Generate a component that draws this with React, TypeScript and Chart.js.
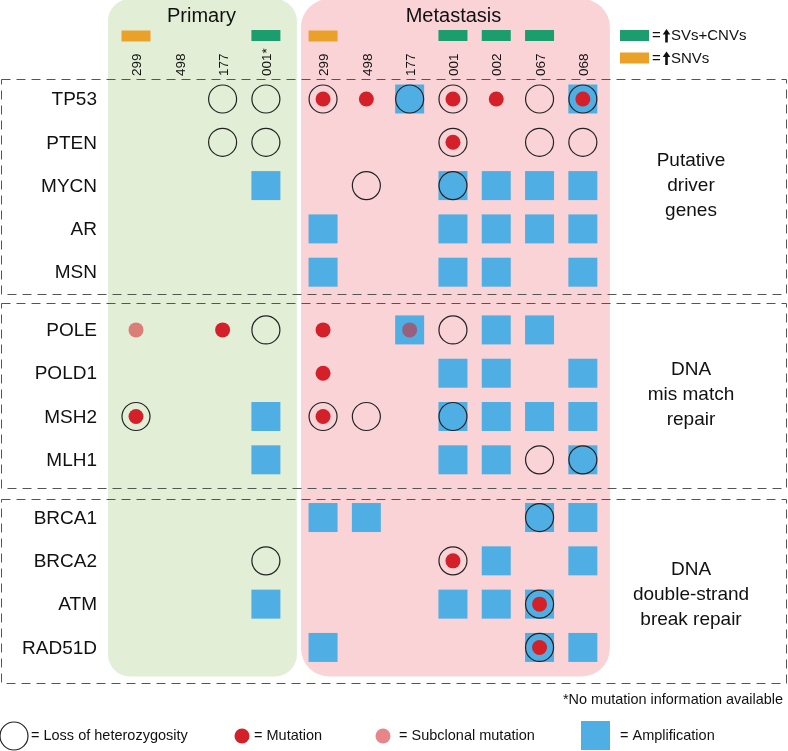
import React, { useEffect, useRef } from 'react';
import { Chart, registerables } from 'chart.js';

Chart.register(...registerables);

// ---------------- DATA ----------------
const primarySamples = ['299', '498', '177', '001*'];
const metastasisSamples = ['299', '498', '177', '001', '002', '067', '068'];

const putativeDriverGenes = ['TP53', 'PTEN', 'MYCN', 'AR', 'MSN'];
const mismatchRepairGenes = ['POLE', 'POLD1', 'MSH2', 'MLH1'];
const doubleStrandRepairGenes = ['BRCA1', 'BRCA2', 'ATM', 'RAD51D'];

const groupLabels = [
  ['Putative', 'driver', 'genes'],
  ['DNA', 'mis match', 'repair'],
  ['DNA', 'double-strand', 'break repair'],
];

// column keys: P = primary, M = metastasis
const highSVsCNVs = ['P001*', 'M001', 'M002', 'M067'];
const highSNVs = ['P299', 'M299'];

const amplification = [
  ['TP53', 'M177'], ['TP53', 'M068'],
  ['MYCN', 'P001*'], ['MYCN', 'M001'], ['MYCN', 'M002'], ['MYCN', 'M067'], ['MYCN', 'M068'],
  ['AR', 'M299'], ['AR', 'M001'], ['AR', 'M002'], ['AR', 'M067'], ['AR', 'M068'],
  ['MSN', 'M299'], ['MSN', 'M001'], ['MSN', 'M002'], ['MSN', 'M068'],
  ['POLE', 'M177'], ['POLE', 'M002'], ['POLE', 'M067'],
  ['POLD1', 'M001'], ['POLD1', 'M002'], ['POLD1', 'M068'],
  ['MSH2', 'P001*'], ['MSH2', 'M001'], ['MSH2', 'M002'], ['MSH2', 'M067'], ['MSH2', 'M068'],
  ['MLH1', 'P001*'], ['MLH1', 'M001'], ['MLH1', 'M002'], ['MLH1', 'M068'],
  ['BRCA1', 'M299'], ['BRCA1', 'M498'], ['BRCA1', 'M067'], ['BRCA1', 'M068'],
  ['BRCA2', 'M002'], ['BRCA2', 'M068'],
  ['ATM', 'P001*'], ['ATM', 'M001'], ['ATM', 'M002'], ['ATM', 'M067'],
  ['RAD51D', 'M299'], ['RAD51D', 'M067'], ['RAD51D', 'M068'],
];

const lossOfHeterozygosity = [
  ['TP53', 'P177'], ['TP53', 'P001*'], ['TP53', 'M299'], ['TP53', 'M177'], ['TP53', 'M001'], ['TP53', 'M067'], ['TP53', 'M068'],
  ['PTEN', 'P177'], ['PTEN', 'P001*'], ['PTEN', 'M001'], ['PTEN', 'M067'], ['PTEN', 'M068'],
  ['MYCN', 'M498'], ['MYCN', 'M001'],
  ['POLE', 'P001*'], ['POLE', 'M001'],
  ['MSH2', 'P299'], ['MSH2', 'M299'], ['MSH2', 'M498'], ['MSH2', 'M001'],
  ['MLH1', 'M067'], ['MLH1', 'M068'],
  ['BRCA1', 'M067'],
  ['BRCA2', 'P001*'], ['BRCA2', 'M001'],
  ['ATM', 'M067'],
  ['RAD51D', 'M067'],
];

const mutation = [
  ['TP53', 'M299'], ['TP53', 'M498'], ['TP53', 'M001'], ['TP53', 'M002'], ['TP53', 'M068'],
  ['PTEN', 'M001'],
  ['POLE', 'P177'], ['POLE', 'M299'],
  ['POLD1', 'M299'],
  ['MSH2', 'P299'], ['MSH2', 'M299'],
  ['BRCA2', 'M001'],
  ['ATM', 'M067'],
  ['RAD51D', 'M067'],
];

const subclonalMutation = [['POLE', 'P299'], ['POLE', 'M177']];

// ---------------- LAYOUT ----------------
const W = 788;
const H = 751;
const UNIT = 43.3;
const X0 = 136;
const Y0 = 99;
const GAP_X = 0.32;
const GAP_Y = 0.333;
const FONT = '"Liberation Sans", Arial, Helvetica, sans-serif';

const BLUE = '#4FAEE3';
const RED = '#D42029';
const SUB = 'rgba(212,32,41,0.55)';
const GREEN_BG = '#E2EFD6';
const PINK_BG = '#FAD3D7';
const ORANGE = '#E9A12A';
const GREEN_BAR = '#1C9D6D';

const geneGroups = [putativeDriverGenes, mismatchRepairGenes, doubleStrandRepairGenes];
const genes = geneGroups.flat();

const columns = [
  ...primarySamples.map((s) => ({ key: 'P' + s, label: s, group: 0 })),
  ...metastasisSamples.map((s) => ({ key: 'M' + s, label: s, group: 1 })),
];

const colPos = (key: string) => {
  const i = columns.findIndex((c) => c.key === key);
  return i + (columns[i].group === 1 ? GAP_X : 0);
};
const genePos = (g: string) => {
  const i = genes.indexOf(g);
  const grp = geneGroups.findIndex((arr) => arr.includes(g));
  return i + grp * GAP_Y;
};
const toPoints = (list: string[][]) => list.map(([g, c]) => ({ x: colPos(c), y: genePos(g) }));

function drawUpArrow(ctx: CanvasRenderingContext2D, x: number, y: number) {
  ctx.beginPath();
  ctx.moveTo(x, y - 7);
  ctx.lineTo(x - 3.8, y - 1.5);
  ctx.lineTo(x + 3.8, y - 1.5);
  ctx.closePath();
  ctx.fill();
  ctx.fillRect(x - 1.3, y - 2, 2.6, 8.5);
}

const decorPlugin = {
  id: 'decor',
  beforeDatasetsDraw(chart: any) {
    const ctx: CanvasRenderingContext2D = chart.ctx;
    const xs = chart.scales.x;
    const ys = chart.scales.y;
    const px = (v: number) => xs.getPixelForValue(v);
    const py = (v: number) => ys.getPixelForValue(v);
    ctx.save();

    // panels
    const pFirst = px(colPos('P' + primarySamples[0]));
    const pLast = px(colPos('P' + primarySamples[primarySamples.length - 1]));
    const mFirst = px(colPos('M' + metastasisSamples[0]));
    const mLast = px(colPos('M' + metastasisSamples[metastasisSamples.length - 1]));
    const lastRowY = py(genePos(genes[genes.length - 1]));
    const rr = (x: number, y: number, w: number, h: number, r: number, color: string) => {
      ctx.fillStyle = color;
      ctx.beginPath();
      (ctx as any).roundRect(x, y, w, h, r);
      ctx.fill();
    };
    rr(pFirst - 28, -1, pLast + 31 - (pFirst - 28), lastRowY + 29 + 1, 22, GREEN_BG);
    rr(mFirst - 22, -1, mLast + 27 - (mFirst - 22), lastRowY + 29 + 1, 28, PINK_BG);

    // titles
    ctx.fillStyle = '#111';
    ctx.font = `20px ${FONT}`;
    ctx.textAlign = 'center';
    ctx.textBaseline = 'alphabetic';
    ctx.fillText('Primary', (pFirst + pLast) / 2 + 0.5, 22);
    ctx.fillText('Metastasis', (mFirst + mLast) / 2 + 0.5, 22);

    // top bars
    columns.forEach((c) => {
      const x = px(colPos(c.key));
      if (highSNVs.includes(c.key)) {
        ctx.fillStyle = ORANGE;
        ctx.fillRect(x - 14.5, 30.5, 29, 11);
      }
      if (highSVsCNVs.includes(c.key)) {
        ctx.fillStyle = GREEN_BAR;
        ctx.fillRect(x - 14.5, 30, 29, 11);
      }
    });

    // column labels
    ctx.fillStyle = '#111';
    ctx.font = `13.5px ${FONT}`;
    ctx.textAlign = 'left';
    ctx.textBaseline = 'middle';
    columns.forEach((c) => {
      const x = px(colPos(c.key)) + 1.5;
      ctx.save();
      ctx.translate(x, 76);
      ctx.rotate(-Math.PI / 2);
      ctx.fillText(c.label, 0, 0);
      ctx.restore();
    });

    // dashed boxes
    const boxes = [
      [79, 294],
      [303, 488],
      [499, 683],
    ];
    ctx.strokeStyle = '#555';
    ctx.lineWidth = 1;
    ctx.setLineDash([9, 6]);
    boxes.forEach(([t, b]) => {
      ctx.strokeRect(1.5, t + 0.5, W - 3, b - t);
    });
    ctx.setLineDash([]);

    // gene labels
    ctx.fillStyle = '#111';
    ctx.font = `19px ${FONT}`;
    ctx.textAlign = 'right';
    ctx.textBaseline = 'middle';
    genes.forEach((g) => {
      ctx.fillText(g, 97, py(genePos(g)) + 1);
    });

    // group labels
    ctx.textAlign = 'center';
    const centers = [
      genePos('MYCN'),
      (genePos('POLD1') + genePos('MSH2')) / 2,
      (genePos('BRCA2') + genePos('ATM')) / 2 + 0.28,
    ];
    groupLabels.forEach((lines, i) => {
      const cy = py(centers[i]);
      lines.forEach((ln, j) => {
        ctx.fillText(ln, 691, cy + (j - 1) * 25);
      });
    });

    // top-right legend
    ctx.font = `15px ${FONT}`;
    ctx.textAlign = 'left';
    ctx.fillStyle = GREEN_BAR;
    ctx.fillRect(620, 30, 29, 11);
    ctx.fillStyle = ORANGE;
    ctx.fillRect(620, 52.5, 29, 11);
    ctx.fillStyle = '#111';
    ctx.fillText('=', 652, 36);
    drawUpArrow(ctx, 666.5, 36);
    ctx.fillText('SVs+CNVs', 671, 36);
    ctx.fillText('=', 652, 58.5);
    drawUpArrow(ctx, 666.5, 58.5);
    ctx.fillText('SNVs', 671, 58.5);

    // footnote
    ctx.font = `15px ${FONT}`;
    ctx.textAlign = 'right';
    ctx.fillText('*No mutation information available', 783, 700, 220);

    // bottom legend
    const ly = 736;
    ctx.textAlign = 'left';
    ctx.font = `14.5px ${FONT}`;
    ctx.strokeStyle = '#222';
    ctx.lineWidth = 1.2;
    ctx.beginPath();
    ctx.arc(14, ly, 14, 0, Math.PI * 2);
    ctx.stroke();
    ctx.fillStyle = '#111';
    ctx.fillText('= Loss of heterozygosity', 31, ly);

    ctx.fillStyle = RED;
    ctx.beginPath();
    ctx.arc(242, ly, 7.5, 0, Math.PI * 2);
    ctx.fill();
    ctx.fillStyle = '#111';
    ctx.fillText('= Mutation', 254, ly);

    ctx.fillStyle = SUB;
    ctx.beginPath();
    ctx.arc(383, ly, 7.5, 0, Math.PI * 2);
    ctx.fill();
    ctx.fillStyle = '#111';
    ctx.fillText('= Subclonal mutation', 399, ly);

    ctx.fillStyle = BLUE;
    ctx.fillRect(581, 721, 29, 29);
    ctx.fillStyle = '#111';
    ctx.fillText('= Amplification', 620, ly);

    ctx.restore();
  },
};

export default function App() {
  const ref = useRef<HTMLCanvasElement | null>(null);

  useEffect(() => {
    document.body.style.margin = '0';
    if (!ref.current) return;
    const chart = new Chart(ref.current, {
      type: 'scatter',
      data: {
        datasets: [
          {
            label: 'Amplification',
            data: toPoints(amplification),
            order: 4,
            pointStyle: 'rect',
            pointRadius: 20.5,
            backgroundColor: BLUE,
            borderWidth: 0,
            borderColor: BLUE,
          },
          {
            label: 'Loss of heterozygosity',
            data: toPoints(lossOfHeterozygosity),
            order: 3,
            pointStyle: 'circle',
            pointRadius: 14,
            backgroundColor: 'rgba(0,0,0,0)',
            borderColor: '#222',
            borderWidth: 1.2,
          },
          {
            label: 'Mutation',
            data: toPoints(mutation),
            order: 2,
            pointStyle: 'circle',
            pointRadius: 7.5,
            backgroundColor: RED,
            borderWidth: 0,
          },
          {
            label: 'Subclonal mutation',
            data: toPoints(subclonalMutation),
            order: 1,
            pointStyle: 'circle',
            pointRadius: 7.5,
            backgroundColor: SUB,
            borderWidth: 0,
          },
        ],
      },
      options: {
        animation: false,
        responsive: false,
        events: [],
        layout: { padding: 0, autoPadding: false },
        plugins: {
          legend: { display: false },
          tooltip: { enabled: false },
          title: { display: false },
        },
        scales: {
          x: {
            type: 'linear',
            display: false,
            min: -X0 / UNIT,
            max: (W - X0) / UNIT,
          },
          y: {
            type: 'linear',
            display: false,
            reverse: true,
            min: -Y0 / UNIT,
            max: (H - Y0) / UNIT,
          },
        },
      },
      plugins: [decorPlugin],
    });
    return () => chart.destroy();
  }, []);

  return (
    <div style={{ position: 'absolute', left: 0, top: 0, width: W, height: H }}>
      <canvas ref={ref} width={W} height={H} style={{ display: 'block' }} />
    </div>
  );
}
